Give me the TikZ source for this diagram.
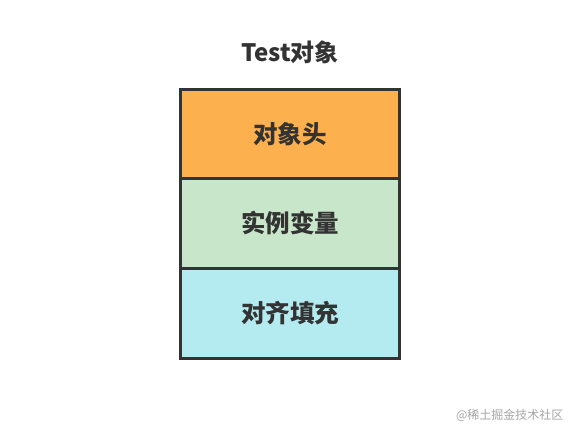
\documentclass[tikz,border=0pt]{standalone}
\usepackage{fontspec}
\setmainfont{Noto Sans CJK SC}
\newfontfamily\cjk{Noto Sans CJK SC}
\usetikzlibrary{positioning}
\definecolor{headfill}{HTML}{FDB14E}
\definecolor{varfill}{HTML}{C8E6C9}
\definecolor{padfill}{HTML}{B3EBF1}
\definecolor{edge}{HTML}{333333}
\tikzset{
  part/.style={draw=edge, line width=3pt, minimum width=219pt, minimum height=90pt,
    inner sep=0pt, font=\cjk\bfseries\fontsize{24.5}{28}\selectfont, text=edge},
}
\begin{document}
\begin{tikzpicture}[x=1pt,y=-1pt]
  \useasboundingbox[fill=white] (0,0) rectangle (570,432);
  \node[font=\cjk\bfseries\fontsize{24}{28}\selectfont, text=edge] (title) at (290,52) {Test对象};
  \node[part, fill=headfill] (head) at (290,134) {对象头};
  \node[part, fill=varfill] (inst) at (290,223) {实例变量};
  \node[part, fill=padfill] (pad) at (290,313) {对齐填充};
  \node[font=\cjk\fontsize{12}{14}\selectfont, text=black!35, anchor=east] (mark) at (567,415) {@稀土掘金技术社区};
\end{tikzpicture}
\end{document}
